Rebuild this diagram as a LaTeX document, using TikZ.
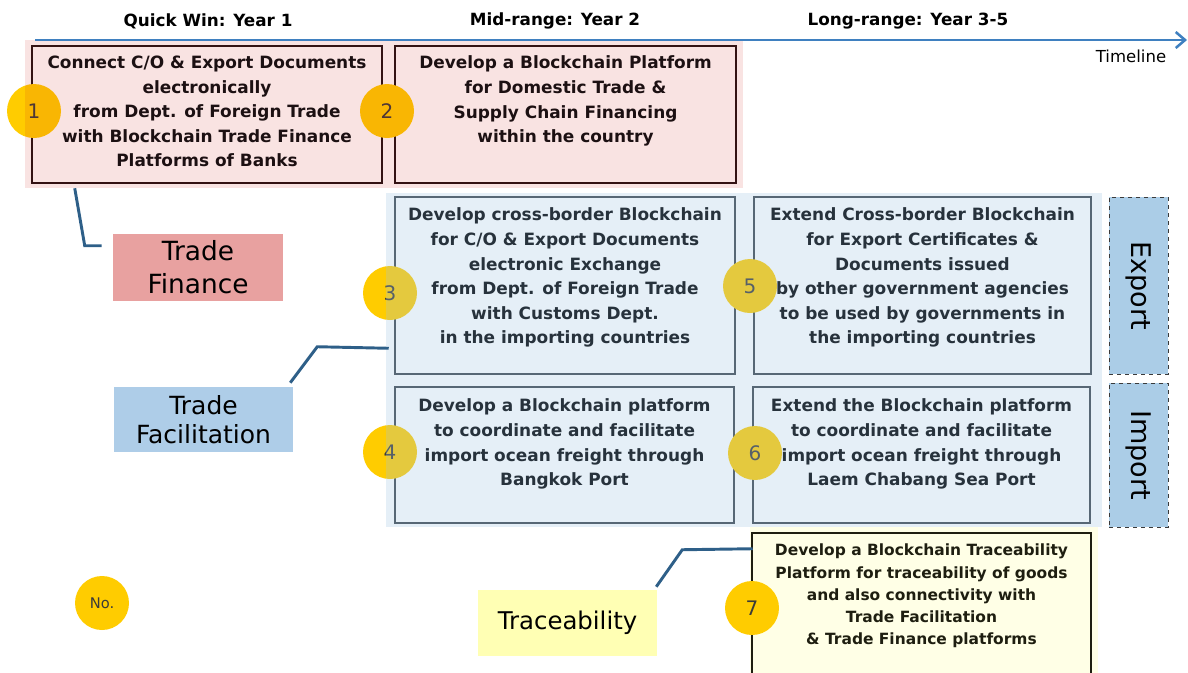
\documentclass[tikz,border=0pt]{standalone}
\usepackage{fontspec}
\setmainfont{DejaVu Sans}
\usetikzlibrary{arrows.meta,calc,fit}

\definecolor{numyellow}{HTML}{FFCC00}
\definecolor{numtext}{HTML}{3A3A3A}
\definecolor{pinkwash}{HTML}{D2231E}
\definecolor{bluewash}{HTML}{A0C4E1}
\definecolor{trbg}{HTML}{FFFFE6}
\definecolor{finred}{HTML}{E8A1A0}
\definecolor{facblue}{HTML}{AECDE8}
\definecolor{trcyellow}{HTML}{FFFFB4}
\definecolor{sideblue}{HTML}{ABCDE7}
\definecolor{sideline}{HTML}{3A3A3A}
\definecolor{linkblue}{HTML}{2E5F88}
\definecolor{timeblue}{HTML}{3F80C0}
\definecolor{finline}{HTML}{1C1012}
\definecolor{facline}{HTML}{3B444C}
\definecolor{factext}{HTML}{27323C}
\definecolor{trline}{HTML}{1E1E10}

\begin{document}
\begin{tikzpicture}[x=0.75pt,y=-0.75pt,
	hdr/.style={font=\bfseries\fontsize{12.6}{15}\selectfont},
	num/.style={circle,fill=numyellow,inner sep=0,minimum size=40.5pt,text=numtext,font=\fontsize{15}{15}\selectfont},
	wash/.style={inner sep=0,outer sep=0,draw=none},
	finbox/.style={draw=finline,line width=1.9pt,inner sep=0},
	facbox/.style={draw=facline,line width=1.9pt,inner sep=0},
	trbox/.style={draw=trline,line width=1.9pt,inner sep=0},
	txt/.style={anchor=north,inner sep=0,align=center,font=\bfseries\fontsize{12.7}{18.45}\selectfont},
	tag/.style={inner sep=0,align=center},
	side/.style={draw=sideline,dashed,line width=0.7pt,fill=sideblue,inner sep=0},
	link/.style={draw=linkblue,line width=2.2pt},
	timeline/.style={draw=timeblue,line width=1.9pt,-{Straight Barb[length=7pt,width=12pt]}}]
	\useasboundingbox (0,0) rectangle (1188,672);
	\node[hdr] (qw) at (208,21) {Quick Win: Year 1};
	\node[hdr] (mr) at (555,21) {Mid-range: Year 2};
	\node[hdr] (lr) at (908,21) {Long-range: Year 3-5};
	\node[font=\fontsize{12.4}{15}\selectfont] (tlabel) at (1131,56) {Timeline};
	\coordinate (tl0) at (35,40);
	\coordinate (tl1) at (1187,40);
	\node[wash,fill=trbg,fit={(750,527) (1098,680)}] (trwash) {};
	% boxes
	\node[finbox,fit={(32,46) (382,183)}] (b1) {};
	\node[finbox,fit={(395,46) (736,183)}] (b2) {};
	\node[facbox,fit={(395,197) (735,374)}] (b3) {};
	\node[facbox,fit={(395,387) (734,523)}] (b4) {};
	\node[facbox,fit={(754,197) (1091,374)}] (b5) {};
	\node[facbox,fit={(753,387) (1090,523)}] (b6) {};
	\node[trbox,fit={(752,533) (1091,700)}] (b7) {};
	% number circles
	\node[num] (n1) at (34,111) {1};
	\node[num] (n2) at (387,111) {2};
	\node[num] (n3) at (390,293) {3};
	\node[num] (n4) at (390,452) {4};
	\node[num] (n5) at (750,286) {5};
	\node[num] (n6) at (755,453) {6};
	\node[num] (n7) at (752,608) {7};
	\node[num,font=\fontsize{11}{11}\selectfont] (nno) at (102,603) {No.};
	\node[wash,fill=pinkwash,fill opacity=0.13,fit={(25,40) (743,188)}] (finwash) {};
	\node[wash,fill=bluewash,fill opacity=0.28,fit={(386,193) (1102,527)}] (facwash) {};
	\draw[timeline] (tl0) -- (tl1);
	\node[txt,text=finline] (t1) at ($(b1.north)+(0,11)$) {Connect C/O \& Export Documents\\electronically\\from Dept. of Foreign Trade\\with Blockchain Trade Finance\\Platforms of Banks};
	\node[txt,text=finline] (t2) at ($(b2.north)+(0,11)$) {Develop a Blockchain Platform\\for Domestic Trade \&\\Supply Chain Financing\\within the country};
	\node[txt,text=factext] (t3) at ($(b3.north)+(0,12)$) {Develop cross-border Blockchain\\for C/O \& Export Documents\\electronic Exchange\\from Dept. of Foreign Trade\\with Customs Dept.\\in the importing countries};
	\node[txt,text=factext] (t4) at ($(b4.north)+(0,13)$) {Develop a Blockchain platform\\to coordinate and facilitate\\import ocean freight through\\Bangkok Port};
	\node[txt,text=factext] (t5) at ($(b5.north)+(0,12)$) {Extend Cross-border Blockchain\\for Export Certificates \&\\Documents issued\\by other government agencies\\to be used by governments in\\the importing countries};
	\node[txt,text=factext] (t6) at ($(b6.north)+(0,13)$) {Extend the Blockchain platform\\to coordinate and facilitate\\import ocean freight through\\Laem Chabang Sea Port};
	\node[txt,text=trline,font=\bfseries\fontsize{11.6}{16.7}\selectfont] (t7) at ($(b7.north)+(0,12)$) {Develop a Blockchain Traceability\\Platform for traceability of goods\\and also connectivity with\\Trade Facilitation\\\& Trade Finance platforms};
	% side labels
	\node[side,fit={(1109,197) (1168,374)}] (export) {};
	\node[side,fit={(1109,383) (1168,527)}] (import) {};
	\node[rotate=-90,font=\fontsize{20.3}{24}\selectfont] (exptext) at (export.center) {Export};
	\node[rotate=-90,font=\fontsize{20.3}{24}\selectfont] (imptext) at (import.center) {Import};
	% category labels
	\node[tag,fill=finred,fit={(113,234) (283,301)}] (finance) {};
	\node[tag,font=\fontsize{19.8}{24.75}\selectfont] (fintext) at (finance.center) {Trade\\Finance};
	\node[tag,fill=facblue,fit={(114,387) (293,452)}] (facil) {};
	\node[tag,font=\fontsize{18.75}{21.75}\selectfont] (factext) at (facil.center) {Trade\\Facilitation};
	\node[tag,fill=trcyellow,fit={(478,590) (657,656)}] (trace) {};
	\node[tag,font=\fontsize{18.3}{22}\selectfont] (trtext) at (trace.center) {Traceability};
	% connectors
	\draw[link] ($(b1.south west)+(44,4)$) -- ($(finance.north west)+(-28,12)$) -- ++(17,0);
	\draw[link] ($(facil.north east)+(-3,-4)$) -- ++(27,-36) -- ($(b3.south west)+(-5,-27)$);
	\draw[link] ($(trace.north east)+(-1,-3)$) -- ++(26,-37) -- ($(b7.north west)+(2,17)$);
\end{tikzpicture}
\end{document}
